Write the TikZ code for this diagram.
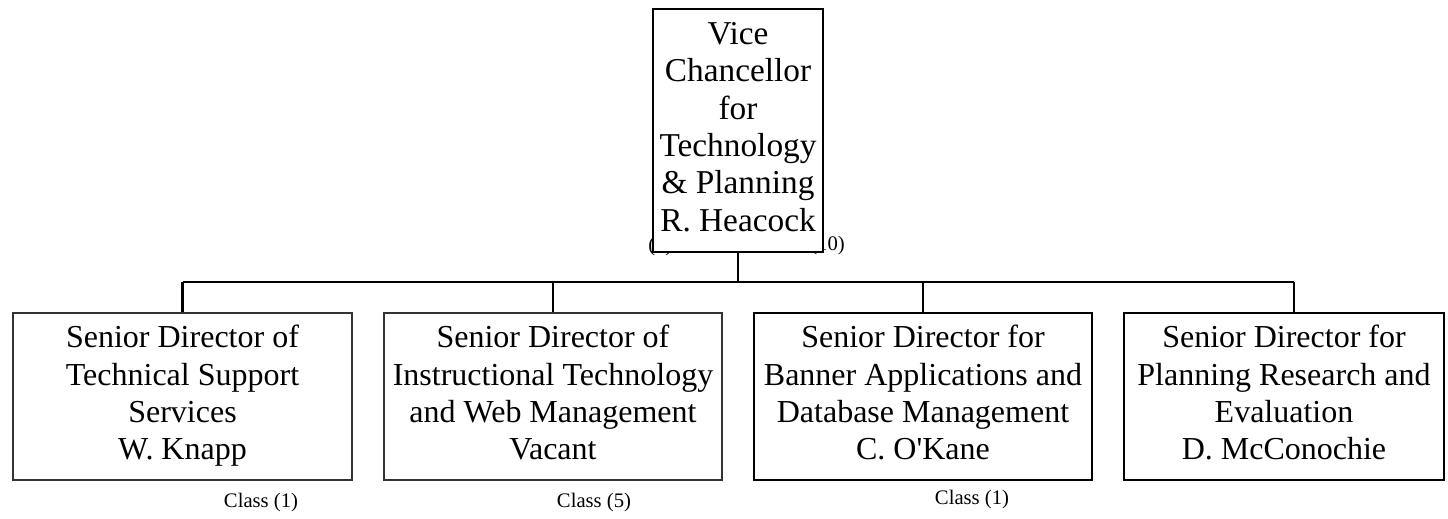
\documentclass[tikz,border=0pt]{standalone}
\usepackage{fontspec}
\setmainfont{Liberation Serif}[Ligatures=TeXOff]
\begin{document}
\begin{tikzpicture}[x=0.75pt,y=-0.75pt,
  boxtext/.style={font=\fontsize{24}{28}\selectfont, align=center, inner sep=0pt},
  thinbox/.style={boxtext, draw=black!80, line width=0.8pt, fill=white},
  thickbox/.style={boxtext, draw=black, line width=1.8pt, fill=white},
  wire/.style={draw=black, line width=1.8pt},
  classlbl/.style={font=\fontsize{15.5}{15.5}\selectfont, inner sep=0pt}]
\useasboundingbox (0,0) rectangle (1448,518);
% partly hidden labels behind the top box
\node[classlbl, anchor=west] (hl) at (648,247) {(1)};
\node[classlbl, anchor=east] (hr) at (845,246) {(10)};
% top box
\node[thickbox, minimum width=170*0.75pt, minimum height=243*0.75pt,
  font=\fontsize{25}{28}\selectfont] (top) at (738,130.5)
  {\strut Vice\\Chancellor\\for\\Technology\\\& Planning\\R. Heacock\strut};
% bottom boxes
\node[thinbox, minimum width=339*0.75pt, minimum height=167*0.75pt] (b1) at (182.5,396.5)
  {\strut Senior Director of\\Technical Support\\Services\\W. Knapp\strut};
\node[thinbox, minimum width=338*0.75pt, minimum height=167*0.75pt] (b2) at (553,396.5)
  {\strut Senior Director of\\Instructional Technology\\and Web Management\\Vacant\strut};
\node[thickbox, minimum width=338*0.75pt, minimum height=167*0.75pt] (b3) at (923,396.5)
  {\strut Senior Director for\\Banner Applications and\\Database Management\\C. O'Kane\strut};
\node[thickbox, minimum width=320*0.75pt, minimum height=167*0.75pt] (b4) at (1284,396.5)
  {\strut Senior Director for\\Planning Research and\\Evaluation\\D. McConochie\strut};
% bus
\coordinate (busL) at (182.5,282);
\coordinate (busR) at (1294,282);
\draw[wire] (busL) -- (busR);
\draw[wire] (top.south) -- (top.south |- busL);
\draw[wire] (busL) -- (busL |- b1.north);
\draw[wire] (b2.north |- busL) -- (b2.north);
\draw[wire] (b3.north |- busL) -- (b3.north);
\draw[wire] (busR) -- (busR |- b4.north);
% class labels
\node[classlbl] (c1) at (261,503) {Class (1)};
\node[classlbl] (c2) at (594,503) {Class (5)};
\node[classlbl] (c3) at (972,500) {Class (1)};
\end{tikzpicture}
\end{document}
